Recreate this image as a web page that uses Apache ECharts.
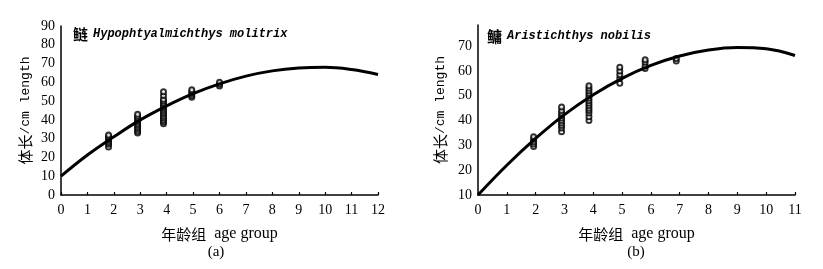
<!DOCTYPE html>
<html>
<head>
<meta charset="utf-8">
<script src="https://cdn.jsdelivr.net/npm/echarts@6/dist/echarts.min.js"></script>
<style>
html,body{margin:0;padding:0;background:#fff;}
#chart{width:823px;height:269px;}
</style>
</head>
<body>
<div id="chart"></div>
<script>
// ---- Panel (a): 鲢 Hypophtyalmichthys molitrix ----
const curveAgesA = [0,1,2,3,4,5,6,7,8,9,10,11,12];
const curveLenA  = [10,21.3,31,40,47.5,54,59.2,63.3,66.1,67.6,68,66.8,64.2];
const obsAgesA = [1.8, 2.9, 3.88, 4.95, 6.0];
const obsLenA = [
  [25.5,27,28,29,30,31,32],
  [33,34,35,36,37,38,39,40,41,42,43],
  [38,39,40,41,42,43,44,45,46,47,48,49,50,51,53,55],
  [52,53,54,55,56],
  [58,59,60]
];
const yTicksA = [0,10,20,30,40,50,60,70,80,90];

// ---- Panel (b): 鳙 Aristichthys nobilis ----
const curveAgesB = [0,1,2,3,4,5,6,7,8,9,10,11];
const curveLenB  = [10,22,32.8,42.4,50.4,57,62.2,66,68.4,69.4,68.9,66.2];
const obsAgesB = [1.93, 2.9, 3.85, 4.92, 5.8, 6.88];
const obsLenB = [
  [29.5,30.5,31.5,32.5,33.5],
  [35.5,37,38,39,40,41,42,43,44,45.5],
  [40,41.5,43,44,45,46,47,48,49,50,51,52,53,54],
  [55,57,58.5,60,61.5],
  [61,62,63.5,64.5],
  [64,65]
];
const yTicksB = [10,20,30,40,50,60,70];

const labelsTitle = {
  a: {cn: '鲢', en: 'Hypophtyalmichthys molitrix', tag: '(a)'},
  b: {cn: '鳙', en: 'Aristichthys nobilis', tag: '(b)'}
};

function pairs(ages, lens) {
  const out = [];
  ages.forEach((a, i) => lens[i].forEach(v => out.push([a, v])));
  return out;
}
function zip(xs, ys) { return xs.map((x, i) => [x, ys[i]]); }

const serif = '"Liberation Serif", "DejaVu Serif", serif';
const mono = '"Liberation Mono", "DejaVu Sans Mono", monospace';
const cjk = '"Noto Sans CJK SC", sans-serif';

const axisLabelStyle = {color: '#000', fontFamily: serif, fontSize: 14, margin: 8};
const nameRich = {
  cn: {fontFamily: cjk, fontSize: 15, color: '#000'},
  en: {fontFamily: serif, fontSize: 16, color: '#000'}
};

function xAxis(idx, max) {
  return {
    type: 'value', gridIndex: idx, min: 0, max: max, interval: 1,
    axisLine: {show: true, lineStyle: {color: '#000', width: 1.5}},
    axisTick: {show: true, inside: true, length: 3, lineStyle: {color: '#000', width: 1.2}},
    axisLabel: axisLabelStyle,
    splitLine: {show: false},
    name: '{cn|年龄组}{en|  age group}',
    nameLocation: 'middle', nameGap: 31,
    nameTextStyle: {rich: nameRich}
  };
}
function yAxis(idx, min, max, ticks, gap) {
  return {
    type: 'value', gridIndex: idx, min: min, max: max, interval: 10,
    axisLine: {show: true, lineStyle: {color: '#000', width: 1.5}},
    axisTick: {show: false},
    axisLabel: Object.assign({}, axisLabelStyle, {
      margin: 6,
      formatter: v => ticks.indexOf(v) >= 0 ? String(v) : ''
    }),
    splitLine: {show: false},
    name: '{cn|体长}{mono|/cm length}',
    nameLocation: 'middle', nameGap: gap, nameRotate: 90,
    nameTextStyle: {rich: {
      cn: {fontFamily: cjk, fontSize: 15, color: '#000'},
      mono: {fontFamily: mono, fontSize: 13, color: '#000'}
    }}
  };
}

const titleRich = {
  cn: {fontFamily: cjk, fontSize: 15, color: '#000'},
  it: {fontFamily: mono, fontSize: 12, fontStyle: 'italic', fontWeight: 'bold', color: '#000'}
};

const chart = echarts.init(document.getElementById('chart'), null, {renderer: 'canvas'});
chart.setOption({
  animation: false,
  backgroundColor: '#fff',
  grid: [
    {left: 61, top: 26, width: 317, height: 169},
    {left: 478, top: 25, width: 317, height: 170}
  ],
  xAxis: [xAxis(0, 12), xAxis(1, 11)],
  yAxis: [yAxis(0, 0, 90, yTicksA, 28), yAxis(1, 10, 78.5, yTicksB, 30)],
  title: [
    {left: 68, top: 20, text: '{cn|' + labelsTitle.a.cn + '} {it|' + labelsTitle.a.en + '}',
     textStyle: {rich: titleRich}},
    {left: 482, top: 22, text: '{cn|' + labelsTitle.b.cn + '} {it|' + labelsTitle.b.en + '}',
     textStyle: {rich: titleRich}}
  ],
  graphic: [
    {type: 'text', x: 216, y: 252, style: {text: labelsTitle.a.tag, fill: '#000', font: '15px ' + serif, align: 'center', verticalAlign: 'middle'}},
    {type: 'text', x: 636, y: 252, style: {text: labelsTitle.b.tag, fill: '#000', font: '15px ' + serif, align: 'center', verticalAlign: 'middle'}}
  ],
  series: [
    {type: 'line', xAxisIndex: 0, yAxisIndex: 0, data: zip(curveAgesA, curveLenA),
     smooth: 0.4, showSymbol: false, lineStyle: {color: '#000', width: 3}, z: 3},
    {type: 'scatter', xAxisIndex: 0, yAxisIndex: 0, data: pairs(obsAgesA, obsLenA),
     symbol: 'emptyCircle', symbolSize: 5, itemStyle: {color: '#000', borderColor: '#000', borderWidth: 2}, z: 2},
    {type: 'line', xAxisIndex: 1, yAxisIndex: 1, data: zip(curveAgesB, curveLenB),
     smooth: 0.4, showSymbol: false, lineStyle: {color: '#000', width: 3}, z: 3},
    {type: 'scatter', xAxisIndex: 1, yAxisIndex: 1, data: pairs(obsAgesB, obsLenB),
     symbol: 'emptyCircle', symbolSize: 5, itemStyle: {color: '#000', borderColor: '#000', borderWidth: 2}, z: 2}
  ]
});
</script>
</body>
</html>
